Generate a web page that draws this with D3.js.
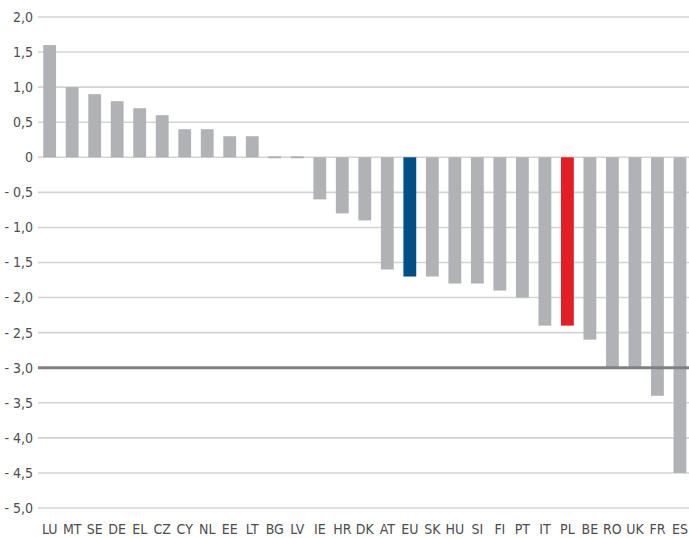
<!DOCTYPE html>
<html><head><meta charset="utf-8">
<script src="https://cdn.jsdelivr.net/npm/d3@7"></script>
<style>
html,body{margin:0;padding:0;background:#fff;}
svg{display:block;}
text{font-family:"Liberation Sans Narrow","DejaVu Sans Condensed","Roboto Condensed",sans-serif;fill:#4d4d4f;}
</style></head>
<body>
<script>
const countries = ["LU","MT","SE","DE","EL","CZ","CY","NL","EE","LT","BG","LV","IE","HR","DK","AT","EU","SK","HU","SI","FI","PT","IT","PL","BE","RO","UK","FR","ES"];
const values = [1.6,1.0,0.9,0.8,0.7,0.6,0.4,0.4,0.3,0.3,0.0,0.0,-0.6,-0.8,-0.9,-1.6,-1.7,-1.7,-1.8,-1.8,-1.9,-2.0,-2.4,-2.4,-2.6,-3.0,-3.0,-3.4,-4.5];
const yTicks = [2.0,1.5,1.0,0.5,0,-0.5,-1.0,-1.5,-2.0,-2.5,-3.0,-3.5,-4.0,-4.5,-5.0];
const refLine = -3.0;
const highlight = {"EU":"#004f86","PL":"#e31e24"};

const W = 689, H = 538;
const svg = d3.select("body").append("svg").attr("width", W).attr("height", H);

const y = d3.scaleLinear().domain([-5, 2]).range([508, 17]);
const x = d3.scaleBand().domain(countries).range([38.4, 691.2]).paddingInner(0.43).paddingOuter(0.215);

// clipped red title remnant
svg.append("text").attr("x", 109).attr("y", -5).attr("font-size", 14).style("fill", "#e31e24").text("ç");

function fmt(v){
  const s = Math.abs(v).toFixed(1).replace(".", ",");
  if (v === 0) return "0";
  return v < 0 ? "- " + s : s;
}

// gridlines
svg.append("g").selectAll("line").data(yTicks.filter(d => d !== refLine)).join("line")
  .attr("x1", 38).attr("x2", W).attr("y1", d => y(d)).attr("y2", d => y(d))
  .attr("stroke", "#d3d3d3").attr("stroke-width", 1.6);

// y labels
svg.append("g").selectAll("text").data(yTicks).join("text")
  .attr("x", 33).attr("y", d => y(d)).attr("dy", "0.35em")
  .attr("text-anchor", "end").attr("font-size", 14).text(fmt);

// bars
svg.append("g").selectAll("rect").data(countries.map((c,i)=>({c, v: values[i]}))).join("rect")
  .attr("x", d => x(d.c)).attr("width", x.bandwidth())
  .attr("y", d => d.v === 0 ? y(0) - 1 : Math.min(y(d.v), y(0)))
  .attr("height", d => d.v === 0 ? 2 : Math.abs(y(d.v) - y(0)))
  .attr("fill", d => highlight[d.c] || "#b1b2b6");

// reference line
svg.append("line").attr("x1", 38).attr("x2", W).attr("y1", y(refLine)).attr("y2", y(refLine))
  .attr("stroke", "#808080").attr("stroke-width", 3);

// x labels
svg.append("g").selectAll("text").data(countries).join("text")
  .attr("x", d => x(d) + x.bandwidth()/2).attr("y", 534)
  .attr("text-anchor", "middle").attr("font-size", 14).text(d => d);
</script>
</body></html>
